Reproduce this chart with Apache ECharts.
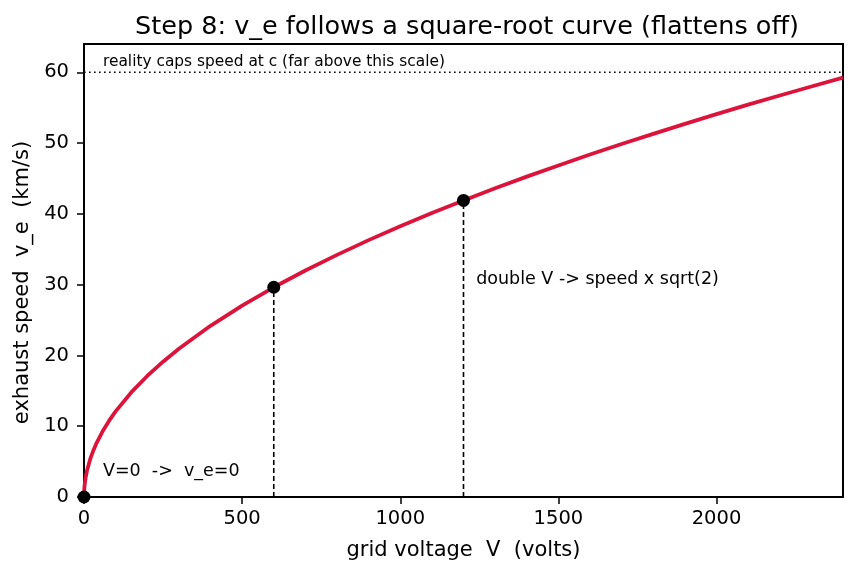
<!DOCTYPE html>
<html>
<head>
<meta charset="utf-8">
<script src="https://cdn.jsdelivr.net/npm/echarts@6/dist/echarts.min.js"></script>
<style>
  html, body { margin: 0; padding: 0; background: #fff; }
  #main { width: 857px; height: 573px; }
</style>
</head>
<body>
<div id="main"></div>
<script>
// grid voltage V (volts) and exhaust speed v_e (km/s)
const voltage = [0, 1, 2, 5, 10, 20, 30, 40, 60, 80, 100, 150, 200, 250, 300, 400, 500, 600, 700, 800, 900, 1000,
  1100, 1200, 1300, 1400, 1500, 1600, 1700, 1800, 1900, 2000, 2100, 2200, 2300, 2400]
const speed = [0, 1.21, 1.71, 2.70, 3.82, 5.41, 6.62, 7.65, 9.37, 10.82, 12.10, 14.81, 17.10, 19.12, 20.95, 24.19, 27.05, 29.63, 32.00, 34.21, 36.29, 38.25,
  40.11, 41.90, 43.61, 45.26, 46.84, 48.38, 49.87, 51.31, 52.72, 54.09, 55.43, 56.73, 58.00, 59.25]

// highlighted points
const markV = [0, 600, 1200]
const markSpeed = [0, 29.63, 41.90]

const capSpeed = 60
const xTicks = [0, 500, 1000, 1500, 2000]

let curve = voltage.map((v, i) => [v, speed[i]])
let dots = markV.map((v, i) => [v, markSpeed[i]])

let font = 'DejaVu Sans'
let myChart = echarts.init(document.getElementById('main'))

let dropLine = function (i) {
  return {
    type: 'line',
    data: [[markV[i], 0], [markV[i], markSpeed[i]]],
    symbol: 'none',
    lineStyle: { color: '#000', width: 1.6, type: [5, 3] },
    z: 3,
    silent: true
  }
}

let option = {
  animation: false,
  title: {
    text: 'Step 8: v_e follows a square-root curve (flattens off)',
    left: 462,
    textAlign: 'center',
    top: 9,
    textStyle: { fontFamily: font, fontSize: 25.5, fontWeight: 'normal', color: '#000' }
  },
  grid: {
    left: 84, right: 14, top: 44, bottom: 76,
    show: true, borderColor: '#000', borderWidth: 2, backgroundColor: 'transparent'
  },
  xAxis: {
    type: 'value',
    min: 0, max: 2400, interval: 500,
    name: 'grid voltage  V  (volts)',
    nameLocation: 'middle',
    nameGap: 43,
    nameTextStyle: { fontFamily: font, fontSize: 21, color: '#000' },
    axisLine: { show: true, lineStyle: { color: '#000', width: 2 } },
    axisTick: { show: true, length: 7, lineStyle: { color: '#000', width: 1.5 } },
    axisLabel: {
      fontFamily: font, fontSize: 19.5, color: '#000', margin: 12,
      showMaxLabel: false,
      formatter: v => xTicks.includes(v) ? String(v) : ''
    },
    splitLine: { show: false }
  },
  yAxis: {
    type: 'value',
    min: 0, max: 64, interval: 10,
    name: 'exhaust speed  v_e  (km/s)',
    nameLocation: 'middle',
    nameGap: 51,
    nameTextStyle: { fontFamily: font, fontSize: 21, color: '#000', padding: [0, 24, 0, 0] },
    axisLine: { show: true, lineStyle: { color: '#000', width: 2 } },
    axisTick: { show: true, length: 7, lineStyle: { color: '#000', width: 1.5 } },
    axisLabel: { fontFamily: font, fontSize: 19.5, color: '#000', margin: 15, showMaxLabel: false },
    splitLine: { show: false }
  },
  series: [
    {
      name: 'cap',
      type: 'line',
      data: [[0, capSpeed], [2400, capSpeed]],
      symbol: 'none',
      lineStyle: { color: '#000', width: 1.6, type: [1.6, 3.4] },
      silent: true,
      z: 2
    },
    {
      name: 'v_e',
      type: 'line',
      data: curve,
      symbol: 'none',
      smooth: false,
      lineStyle: { color: '#DC143C', width: 3.8 },
      z: 4
    },
    dropLine(1),
    dropLine(2),
    {
      name: 'points',
      type: 'scatter',
      data: dots,
      symbolSize: 13,
      itemStyle: { color: '#000', opacity: 1 },
      z: 6
    },
    {
      name: 'notes',
      type: 'scatter',
      symbolSize: 0,
      silent: true,
      z: 7,
      itemStyle: { opacity: 1 },
      data: [
        { value: [60, 60.4], label: { formatter: 'reality caps speed at c (far above this scale)', fontSize: 15.4 } },
        { value: [60, 2.4], label: { formatter: 'V=0  ->  v_e=0', fontSize: 17.5 } },
        { value: [1240, 29.5], label: { formatter: 'double V -> speed x sqrt(2)', fontSize: 17.5 } }
      ],
      label: {
        show: true,
        position: 'insideBottomLeft',
        align: 'left',
        verticalAlign: 'bottom',
        fontFamily: font,
        color: '#000',
        distance: 0
      }
    }
  ]
}

myChart.setOption(option)
</script>
</body>
</html>
